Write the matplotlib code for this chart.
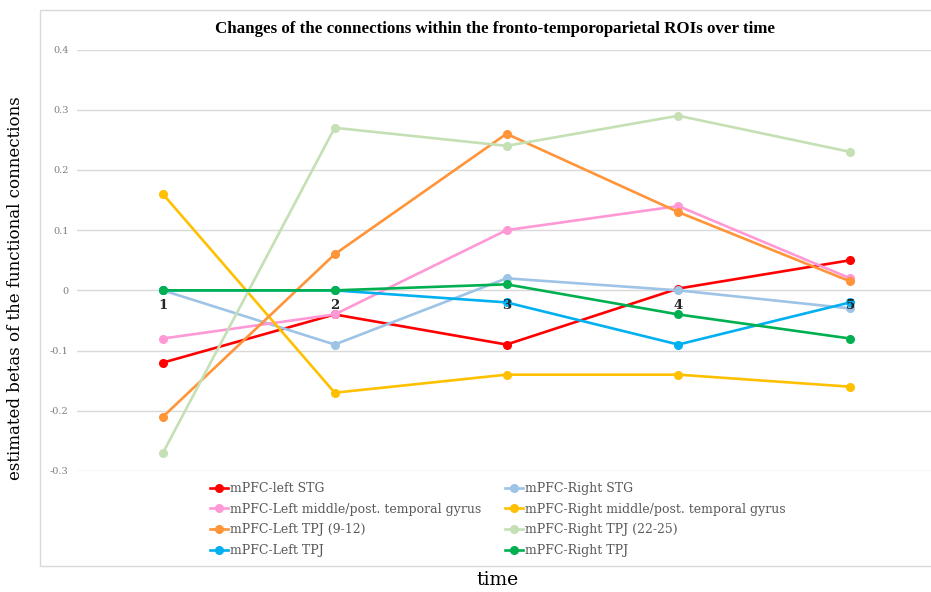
import matplotlib
matplotlib.use("Agg")
import matplotlib.pyplot as plt
from matplotlib.patches import Rectangle

times = ["1", "2", "3", "4", "5"]
series_names = [
    "mPFC-left STG",
    "mPFC-Right STG",
    "mPFC-Left middle/post. temporal gyrus",
    "mPFC-Right middle/post. temporal gyrus",
    "mPFC-Left TPJ (9-12)",
    "mPFC-Right TPJ (22-25)",
    "mPFC-Left TPJ",
    "mPFC-Right TPJ",
]
left_stg = [-0.12, -0.04, -0.09, 0.003, 0.05]
right_stg = [0.0, -0.09, 0.02, 0.0, -0.03]
left_mtg = [-0.08, -0.04, 0.10, 0.14, 0.02]
right_mtg = [0.16, -0.17, -0.14, -0.14, -0.16]
left_tpj_912 = [-0.21, 0.06, 0.26, 0.13, 0.015]
right_tpj_2225 = [-0.27, 0.27, 0.24, 0.29, 0.23]
left_tpj = [0.0, 0.0, -0.02, -0.09, -0.02]
right_tpj = [0.0, 0.0, 0.01, -0.04, -0.08]
series_values = [left_stg, right_stg, left_mtg, right_mtg,
                 left_tpj_912, right_tpj_2225, left_tpj, right_tpj]
colors = ["#FF0000", "#9DC3E6", "#FF99D6", "#FFC000",
          "#FF9438", "#C5E0B4", "#00B0F0", "#00B050"]
yticks = [-0.3, -0.2, -0.1, 0, 0.1, 0.2, 0.3, 0.4]
ytick_labels = ["-0.3", "-0.2", "-0.1", "0", "0.1", "0.2", "0.3", "0.4"]

W, H = 931, 592
fig = plt.figure(figsize=(W / 100, H / 100), dpi=100)

# outer chart box
fig.patches.append(Rectangle((40 / W, 1 - 566 / H), 1.0, (566 - 10) / H,
                             transform=fig.transFigure, fill=False,
                             edgecolor="#D9D9D9", linewidth=1.0))

ax = fig.add_axes([77 / W, 1 - 471 / H, 859 / W, (471 - 49.5) / H])
x = list(range(1, len(times) + 1))
handles = []
for name, vals, c in zip(series_names, series_values, colors):
    h, = ax.plot(x, vals, color=c, linewidth=1.9, marker="o", markersize=5.5,
                 label=name, clip_on=False, zorder=3)
    handles.append(h)

ax.set_xlim(0.5, len(times) + 0.5)
ax.set_ylim(-0.3, 0.4)
ax.set_yticks(yticks)
ax.set_yticklabels(ytick_labels, fontsize=7, color="#7F7F7F", family="DejaVu Serif")
ax.yaxis.grid(True, color="#D9D9D9", linewidth=1.0)
ax.set_axisbelow(True)
ax.tick_params(axis="y", length=0, pad=6)
for s in ["left", "right", "top", "bottom"]:
    ax.spines[s].set_visible(False)
ax.set_xticks([])

# category labels sit just below the zero line, drawn on top of the lines
for xi, lab in zip(x, times):
    ax.annotate(lab, (xi, 0), xytext=(0, -6), textcoords="offset points",
                ha="center", va="top", fontsize=9.5, fontweight="bold",
                color="#262626", family="DejaVu Serif", zorder=10,
                annotation_clip=False)

fig.text(495 / W, 1 - 29 / H,
         "Changes of the connections within the fronto-temporoparietal ROIs over time",
         ha="center", va="center", fontsize=12.2, fontweight="bold",
         family="Liberation Serif", color="#000000")
fig.text(16 / W, 1 - 288 / H, "estimated betas of the functional connections",
         rotation=90, ha="center", va="center", fontsize=12,
         family="DejaVu Serif", color="#000000")
fig.text(498 / W, 1 - 580 / H, "time", ha="center", va="center", fontsize=13.5,
         family="DejaVu Serif", color="#000000")

order = [0, 2, 4, 6, 1, 3, 5, 7]
leg = fig.legend([handles[i] for i in order], [series_names[i] for i in order],
                 ncol=2, loc="upper left", bbox_to_anchor=(210 / W, 1 - 482 / H),
                 frameon=False, prop={"family": "DejaVu Serif", "size": 9},
                 handlelength=1.4, handletextpad=0.2, columnspacing=1.9,
                 labelspacing=0.62, borderaxespad=0, borderpad=0)
for t in leg.get_texts():
    t.set_color("#595959")

fig.savefig("out.png", dpi=100)
